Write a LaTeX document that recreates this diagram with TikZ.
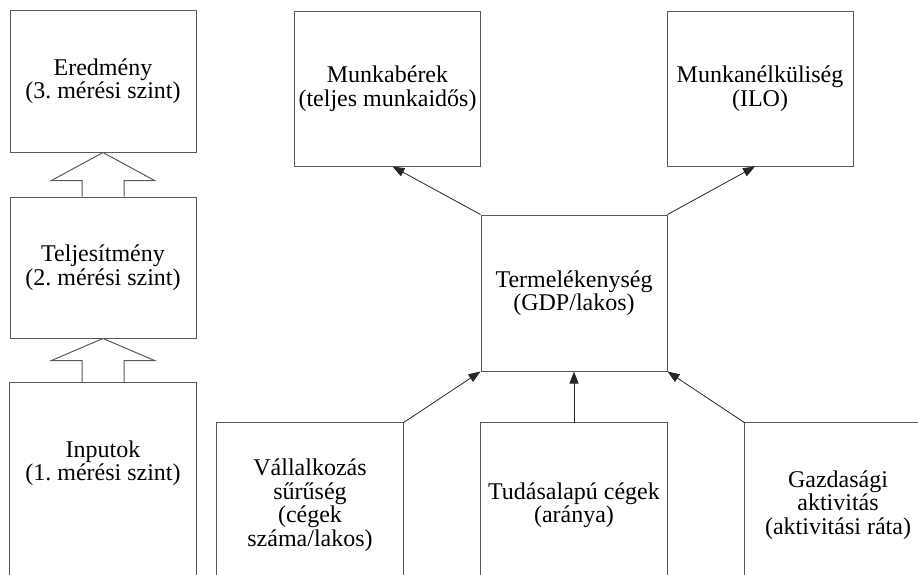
\documentclass[tikz,border=0pt]{standalone}
\usepackage{fontspec}
\setmainfont{Liberation Serif}
\usetikzlibrary{arrows.meta}
\begin{document}
\begin{tikzpicture}[x=1pt,y=-1pt,
  boxline/.style={draw=black!65, line width=1pt},
  box/.style={boxline, minimum width=186pt, minimum height=155pt, inner sep=0pt, align=center,
    font=\fontsize{24}{23.5}\selectfont},
  lbox/.style={box, minimum height=142pt},
  openbox/.style={minimum width=186pt, minimum height=200pt, inner sep=0pt},
  txt/.style={align=center, inner sep=0pt, font=\fontsize{24}{23.5}\selectfont},
  arr/.style={draw=black!85, line width=0.8pt, -{Triangle[length=12pt,width=9pt]}}]
\useasboundingbox (0,0) rectangle (918,574);
\fill[white] (0,0) rectangle (918,574);
\begin{scope}
\clip (0,0) rectangle (918,574);
% left column
\node[lbox] (ered) at (103,81) {Eredmény\\(3.~mérési szint)};
\node[lbox, minimum height=141pt] (telj) at (103,267.5) {Teljesítmény\\(2.~mérési szint)};
\node[openbox] (inp) at (103,483) {};
\node[txt] (inpt) at (103,463) {Inputok\\(1.~mérési szint)};
\draw[boxline] (inp.south west) -- (inp.north west) -- (inp.north east) -- (inp.south east);
% hollow arrows
\draw[boxline, line join=miter]
  ([xshift=-21pt]telj.north) -- ([xshift=-21pt,yshift=-28pt]ered.south)
  -- ([xshift=-51.5pt,yshift=-28pt]ered.south) -- (ered.south)
  -- ([xshift=51.5pt,yshift=-28pt]ered.south) -- ([xshift=21pt,yshift=-28pt]ered.south)
  -- ([xshift=21pt]telj.north);
\draw[boxline, line join=miter]
  ([xshift=-21pt]inp.north) -- ([xshift=-21pt,yshift=-22pt]telj.south)
  -- ([xshift=-51.5pt,yshift=-22pt]telj.south) -- (telj.south)
  -- ([xshift=51.5pt,yshift=-22pt]telj.south) -- ([xshift=21pt,yshift=-22pt]telj.south)
  -- ([xshift=21pt]inp.north);
% top boxes
\node[box] (mb) at (387.5,88.5) {Munkabérek\\(teljes munkaidős)};
\node[box] (mn) at (760,88.5) {Munkanélküliség\\(ILO)};
\node[box, minimum height=156pt] (term) at (574,293) {Termelékenység\\(GDP/lakos)};
% bottom open boxes
\node[openbox] (vall) at (310,523) {};
\node[txt] (vallt) at (310,505) {Vállalkozás\\sűrűség\\(cégek\\száma/lakos)};
\node[openbox] (tud) at (574,523) {};
\node[txt] (tudt) at (574,505) {Tudásalapú cégek\\(aránya)};
\node[openbox] (gazd) at (838,523) {};
\node[txt] (gazdt) at (838,505) {Gazdasági\\aktivitás\\(aktivitási ráta)};
\foreach \b in {vall,tud,gazd}
  \draw[boxline] (\b.south west) -- (\b.north west) -- (\b.north east) -- (\b.south east);
% arrows
\draw[arr] (term.north west) -- ([xshift=5pt]mb.south);
\draw[arr] (term.north east) -- ([xshift=-5pt]mn.south);
\draw[arr] (vall.north east) -- (term.south west);
\draw[arr] (tud.north) -- (term.south);
\draw[arr] (gazd.north west) -- (term.south east);
\end{scope}
\end{tikzpicture}
\end{document}
